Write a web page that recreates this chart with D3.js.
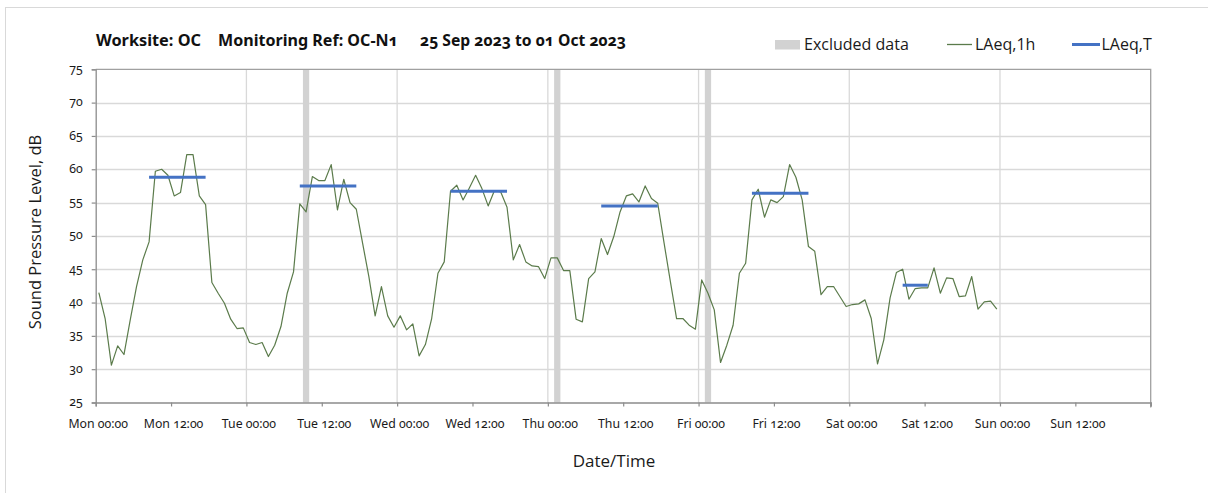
<!DOCTYPE html>
<html>
<head>
<meta charset="utf-8">
<script src="https://cdn.jsdelivr.net/npm/d3@7"></script>
<style>
  html, body { margin: 0; padding: 0; background: #fff; }
  svg { display: block; }
  .num { font-family: "Noto Sans", sans-serif; font-variant-numeric: oldstyle-nums; font-feature-settings: "onum" 1; }
  .ui { font-family: "Open Sans", "Noto Sans", sans-serif; }
</style>
</head>
<body>
<svg id="chart" width="1208" height="493"></svg>
<script>
// Monitoring week: Mon 25 Sep 2023 00:00 to Mon 02 Oct 2023 00:00
const weekStart = Date.UTC(2023, 8, 25, 0, 0);
const weekEnd = Date.UTC(2023, 9, 2, 0, 0);
const HOUR = 3600 * 1000;

// Hourly LAeq,1h values (dB), one per hour from Mon 00:00
const laeq1hMon = [41.5, 37.6, 30.6, 33.5, 32.2, 37.4, 42.4, 46.4, 49.1, 59.7, 60.0, 59.1,
                   56.0, 56.5, 62.2, 62.2, 56.0, 54.7, 43.0, 41.4, 39.9, 37.5, 36.1, 36.2];
const laeq1hTue = [34.0, 33.7, 34.0, 31.9, 33.6, 36.4, 41.4, 44.6, 54.8, 53.6, 58.9, 58.3,
                   58.3, 60.7, 53.9, 58.5, 55.0, 54.0, 48.9, 43.9, 38.0, 42.4, 38.0, 36.3];
const laeq1hWed = [38.0, 35.9, 36.8, 32.0, 33.7, 37.6, 44.4, 46.1, 56.7, 57.6, 55.4, 57.2,
                   59.1, 57.1, 54.5, 56.8, 56.6, 54.3, 46.4, 48.7, 46.1, 45.5, 45.4, 43.6];
const laeq1hThu = [46.7, 46.7, 44.8, 44.8, 37.5, 37.1, 43.6, 44.6, 49.6, 47.2, 49.9, 53.6,
                   56.0, 56.3, 55.1, 57.5, 55.6, 54.9, 49.0, 43.2, 37.6, 37.6, 36.6, 36.0];
const laeq1hFri = [43.4, 41.4, 38.9, 31.0, 33.6, 36.6, 44.4, 45.9, 55.4, 57.0, 52.8, 55.4,
                   55.0, 55.9, 60.7, 58.8, 55.4, 48.4, 47.7, 41.2, 42.4, 42.4, 40.9, 39.4];
const laeq1hSat = [39.7, 39.8, 40.4, 37.6, 30.8, 34.4, 40.7, 44.5, 45.0, 40.5, 42.1, 42.2,
                   42.2, 45.2, 41.4, 43.7, 43.6, 40.9, 41.0, 43.9, 39.0, 40.1, 40.2, 39.0];

// Daytime LAeq,T periods: first and last hour (exclusive) counted from Mon 00:00
const periodStartHour = [8, 32, 56, 80, 104, 128];
const periodEndHour   = [18, 42, 66, 90, 114, 133];
const laeqT           = [58.8, 57.5, 56.7, 54.5, 56.4, 42.6];

// Excluded hours, counted from Mon 00:00
const excludedStartHour = [33, 73, 97];

// Axis ticks
const yTicks = [25, 30, 35, 40, 45, 50, 55, 60, 65, 70, 75];
const xTickStepHours = 12;

const titleParts = ["Worksite: OC", "Monitoring Ref: OC-N1", "25 Sep 2023 to 01 Oct 2023"];
const legendLabels = ["Excluded data", "LAeq,1h", "LAeq,T"];

// ---------------------------------------------------------------
const svg = d3.select("#chart");
const W = 1208, H = 493;
const plot = { left: 95.7, right: 1150.7, top: 69.3, bottom: 402.5 };

const x = d3.scaleUtc().domain([weekStart, weekEnd]).range([plot.left, plot.right]);
const y = d3.scaleLinear().domain([25, 75]).range([plot.bottom, plot.top]);

const hourly = [].concat(laeq1hMon, laeq1hTue, laeq1hWed, laeq1hThu, laeq1hFri, laeq1hSat)
  .map((v, i) => ({ t: weekStart + (i + 0.5) * HOUR, v }));   // plotted at mid-hour

// Outer frame
svg.append("rect")
  .attr("x", 5.5).attr("y", 7.5).attr("width", W + 10).attr("height", H + 10)
  .attr("fill", "none").attr("stroke", "#d9d9d9").attr("stroke-width", 1);

const g = svg.append("g");

// Horizontal gridlines
g.append("g").selectAll("line")
  .data(yTicks.filter(d => d !== 25 && d !== 75))
  .join("line")
  .attr("x1", plot.left).attr("x2", plot.right)
  .attr("y1", d => Math.round(y(d)) + 0.5).attr("y2", d => Math.round(y(d)) + 0.5)
  .attr("stroke", "#d9d9d9").attr("stroke-width", 1.3);

// Vertical gridlines at each midnight
const midnights = d3.utcDay.range(weekStart + 1, weekEnd);
g.append("g").selectAll("line")
  .data(midnights)
  .join("line")
  .attr("x1", d => x(d)).attr("x2", d => x(d))
  .attr("y1", plot.top).attr("y2", plot.bottom)
  .attr("stroke", "#d9d9d9").attr("stroke-width", 1.3);

// Excluded data bands
g.append("g").selectAll("rect")
  .data(excludedStartHour)
  .join("rect")
  .attr("x", h => x(weekStart + h * HOUR))
  .attr("width", h => x(weekStart + (h + 1) * HOUR) - x(weekStart + h * HOUR))
  .attr("y", plot.top).attr("height", plot.bottom - plot.top)
  .attr("fill", "#d2d2d2");

// Plot border (top and right)
g.append("path")
  .attr("d", `M${plot.left},${plot.top}H${plot.right}V${plot.bottom + 5}`)
  .attr("fill", "none").attr("stroke", "#a0a0a0").attr("stroke-width", 1.3);

// X axis
const xTicks = d3.utcHour.every(xTickStepHours).range(weekStart, weekEnd + 1);
const xAxis = d3.axisBottom(x)
  .tickValues(xTicks)
  .tickSize(4)
  .tickFormat(d => +d >= weekEnd ? "" : d3.utcFormat("%a %H:%M")(d));
const xg = g.append("g").attr("transform", `translate(0,${plot.bottom})`).call(xAxis);
xg.select(".domain").attr("stroke", "#8c8c8c").attr("stroke-width", 1.3);
xg.selectAll(".tick line").attr("stroke", "#8c8c8c").attr("stroke-width", 1.2);
xg.selectAll(".tick text")
  .attr("class", "num")
  .attr("font-size", 12.3).attr("fill", "#1a1a1a")
  .attr("dx", 2).attr("y", 17);

// Y axis
const yAxis = d3.axisLeft(y).tickValues(yTicks).tickSize(4).tickPadding(9);
const yg = g.append("g").attr("transform", `translate(${plot.left},0)`).call(yAxis);
yg.select(".domain").attr("stroke", "#8c8c8c").attr("stroke-width", 1.3);
yg.selectAll(".tick line").attr("stroke", "#8c8c8c").attr("stroke-width", 1.2);
yg.selectAll(".tick text")
  .attr("class", "num")
  .attr("font-size", 12.3).attr("fill", "#1a1a1a").attr("dy", "0.25em");

// LAeq,1h line
g.append("path")
  .datum(hourly)
  .attr("fill", "none")
  .attr("stroke", "#5b7b4b")
  .attr("stroke-width", 1.2)
  .attr("stroke-linejoin", "round")
  .attr("d", d3.line().x(d => x(d.t)).y(d => y(d.v)));

// LAeq,T period lines (from first to last hourly mid-point of each period)
const periods = laeqT.map((v, i) => ({
  t0: weekStart + (periodStartHour[i] + 0.5) * HOUR,
  t1: weekStart + (periodEndHour[i] - 0.5) * HOUR,
  v
}));
g.append("g").selectAll("line")
  .data(periods)
  .join("line")
  .attr("x1", d => x(d.t0)).attr("x2", d => x(d.t1))
  .attr("y1", d => y(d.v)).attr("y2", d => y(d.v))
  .attr("stroke", "#4472c4").attr("stroke-width", 3);

// Title
const titleX = [96, 218, 420];
const titleW = [105, 180, 206];
svg.append("g").selectAll("text")
  .data(titleParts)
  .join("text")
  .attr("class", "num")
  .attr("x", (d, i) => titleX[i]).attr("y", 46)
  .attr("font-size", 15.5).attr("font-weight", "bold").attr("fill", "#111")
  .attr("textLength", (d, i) => titleW[i]).attr("lengthAdjust", "spacingAndGlyphs")
  .text(d => d);

// Legend
const lg = svg.append("g").attr("class", "ui");
lg.append("rect").attr("x", 775).attr("y", 40).attr("width", 25).attr("height", 9.5).attr("fill", "#d2d2d2");
lg.append("line").attr("x1", 947).attr("x2", 972).attr("y1", 44.5).attr("y2", 44.5)
  .attr("stroke", "#5b7b4b").attr("stroke-width", 1.3);
lg.append("line").attr("x1", 1072).attr("x2", 1100).attr("y1", 44.5).attr("y2", 44.5)
  .attr("stroke", "#4472c4").attr("stroke-width", 3);
const legendX = [804, 975, 1101.5];
lg.selectAll("text")
  .data(legendLabels)
  .join("text")
  .attr("x", (d, i) => legendX[i]).attr("y", 49.5)
  .attr("font-size", 16).attr("fill", "#1a1a1a")
  .text(d => d);

// Axis titles
svg.append("text")
  .attr("class", "ui")
  .attr("transform", `translate(41,232) rotate(-90)`)
  .attr("text-anchor", "middle")
  .attr("font-size", 16.5).attr("fill", "#1a1a1a")
  .text("Sound Pressure Level, dB");

svg.append("text")
  .attr("class", "ui")
  .attr("x", 614).attr("y", 467)
  .attr("text-anchor", "middle")
  .attr("font-size", 17).attr("fill", "#1a1a1a")
  .text("Date/Time");
</script>
</body>
</html>
